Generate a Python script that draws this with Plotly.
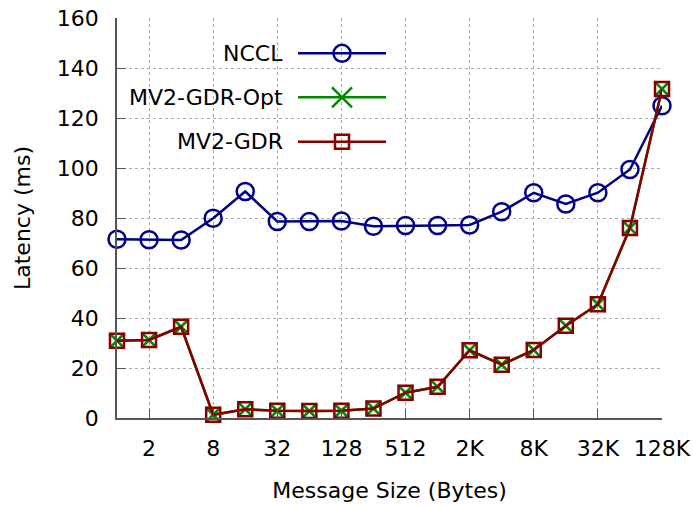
import plotly.graph_objects as go

sizes = ["1", "2", "4", "8", "16", "32", "64", "128", "256", "512",
         "1K", "2K", "4K", "8K", "16K", "32K", "64K", "128K"]
nccl = [71.5, 71.3, 71.2, 79.9, 90.6, 78.6, 78.6, 78.8, 76.7, 77.0,
        77.0, 77.2, 82.5, 90.1, 85.6, 90.1, 99.4, 124.9]
mv2_gdr_opt = [30.9, 31.2, 36.5, 1.3, 3.5, 2.9, 2.8, 2.9, 3.8, 10.1,
               12.5, 27.1, 21.3, 27.2, 36.9, 45.5, 76.0, 131.6]
mv2_gdr = [30.9, 31.2, 36.5, 1.3, 3.5, 2.9, 2.8, 2.9, 3.8, 10.1,
           12.5, 27.1, 21.3, 27.2, 36.9, 45.5, 76.0, 131.6]
tick_labels = ["2", "8", "32", "128", "512", "2K", "8K", "32K", "128K"]
series_names = ["NCCL", "MV2-GDR-Opt", "MV2-GDR"]

BLUE = "#000088"
GREEN = "#008a00"
RED = "#880000"
FONT = "DejaVu Sans"

fig = go.Figure()
fig.add_trace(go.Scatter(x=sizes, y=nccl, name=series_names[0], mode="lines+markers",
                         line=dict(color=BLUE, width=2.5),
                         marker=dict(symbol="circle-open", size=17, color=BLUE,
                                     line=dict(width=2.5, color=BLUE)),
                         cliponaxis=False, showlegend=False))
fig.add_trace(go.Scatter(x=sizes, y=mv2_gdr_opt, name=series_names[1], mode="lines+markers",
                         line=dict(color=GREEN, width=2.5),
                         marker=dict(symbol="x-thin-open", size=15, color=GREEN,
                                     line=dict(width=2.5, color=GREEN)),
                         cliponaxis=False, showlegend=False))
fig.add_trace(go.Scatter(x=sizes, y=mv2_gdr, name=series_names[2], mode="lines+markers",
                         line=dict(color=RED, width=2.5),
                         marker=dict(symbol="square-open", size=14, color=RED,
                                     line=dict(width=2.5, color=RED)),
                         cliponaxis=False, showlegend=False))

# plot area in px: x 117..662, y 18..418
L, R, T, B = 117, 662, 18, 418
def px(x):
    return (x - L) / (R - L)
def py(y):
    return (B - y) / (B - T)

shapes = []
annotations = []
# opaque legend box (above grid, below traces)
shapes.append(dict(type="rect", xref="paper", yref="paper", x0=px(L + 1), x1=px(400),
                   y0=py(166), y1=py(33), fillcolor="white", line=dict(width=0),
                   layer="between"))
rows = [53.3, 97.3, 141.7]
colors = [BLUE, GREEN, RED]
for name, yy, c in zip(series_names, rows, colors):
    annotations.append(dict(text=name, x=px(285), y=py(yy), xref="paper", yref="paper",
                            xanchor="right", yanchor="middle", showarrow=False,
                            font=dict(family=FONT, size=22, color="black")))
    shapes.append(dict(type="line", xref="paper", yref="paper", x0=px(298), x1=px(386),
                       y0=py(yy), y1=py(yy), line=dict(color=c, width=2.5), layer="above"))
mx = px(342)
shapes.append(dict(type="circle", xref="paper", yref="paper", xsizemode="pixel", ysizemode="pixel",
                   xanchor=mx, yanchor=py(rows[0]), x0=-8.5, x1=8.5, y0=-8.5, y1=8.5,
                   line=dict(color=BLUE, width=2.5), fillcolor="rgba(0,0,0,0)", layer="above"))
shapes.append(dict(type="path", xref="paper", yref="paper", xsizemode="pixel", ysizemode="pixel",
                   xanchor=mx, yanchor=py(rows[1]),
                   path="M-10,-10L10,10M-10,10L10,-10",
                   line=dict(color=GREEN, width=2.5), layer="above"))
shapes.append(dict(type="rect", xref="paper", yref="paper", xsizemode="pixel", ysizemode="pixel",
                   xanchor=mx, yanchor=py(rows[2]), x0=-7, x1=7, y0=-7, y1=7,
                   line=dict(color=RED, width=2.5), fillcolor="rgba(0,0,0,0)", layer="above"))

fig.update_layout(
    width=693, height=507,
    margin=dict(l=L, r=693 - R, t=T, b=507 - B),
    paper_bgcolor="white", plot_bgcolor="white",
    font=dict(family=FONT, size=22, color="black"),
    shapes=shapes, annotations=annotations,
    xaxis=dict(type="category", categoryorder="array", categoryarray=sizes,
               range=[0, len(sizes) - 1], automargin=False,
               tickmode="array", tickvals=tick_labels, ticktext=tick_labels,
               ticks="inside", ticklen=9, tickwidth=1, tickcolor="#555555",
               showgrid=True, gridcolor="#aaaaaa", griddash="dot", gridwidth=1,
               showline=True, linecolor="#555555", linewidth=1.5, mirror=False,
               zeroline=False, ticklabelstandoff=10,
               tickfont=dict(family=FONT, size=22, color="black"),
               title=dict(text="Message Size (Bytes)", standoff=22,
                          font=dict(family=FONT, size=22, color="black"))),
    yaxis=dict(range=[0, 160], tickmode="linear", tick0=0, dtick=20, automargin=False,
               ticks="inside", ticklen=9, tickwidth=1, tickcolor="#555555",
               showgrid=True, gridcolor="#aaaaaa", griddash="dot", gridwidth=1,
               showline=True, linecolor="#555555", linewidth=1.5, mirror=False,
               zeroline=False, ticklabelstandoff=12,
               tickfont=dict(family=FONT, size=22, color="black"),
               title=dict(text="Latency (ms)", standoff=20,
                          font=dict(family=FONT, size=22, color="black"))),
)

fig.write_html("out.html")
